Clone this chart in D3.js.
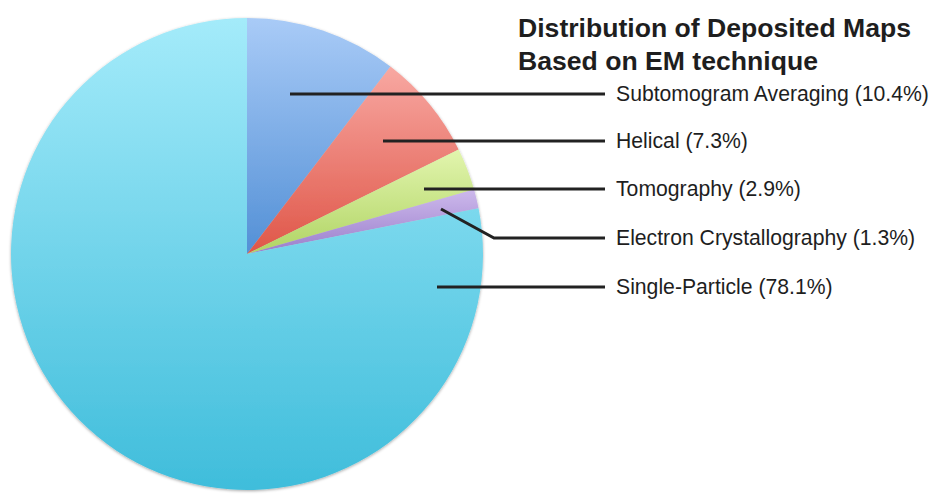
<!DOCTYPE html>
<html><head><meta charset="utf-8">
<script src="https://cdn.jsdelivr.net/npm/d3@7"></script>
<style>body{margin:0;background:#fff}svg{display:block}text{font-family:"Liberation Sans",Arial,sans-serif}</style>
</head><body>
<svg id="c" width="933" height="501"></svg>
<script>
const categories = ["Subtomogram Averaging","Helical","Tomography","Electron Crystallography","Single-Particle"];
const values = [10.4, 7.3, 2.9, 1.3, 78.1];
const titleLines = ["Distribution of Deposited Maps","Based on EM technique"];
const gradTop = ["#a9cbf7","#f8a8a2","#e2f5ae","#cdb9ec","#a4ebfa"];
const gradBottom = ["#5390d6","#df5648","#b0d464","#9a7ecb","#3fbddb"];
// leader anchors: x where the line starts, label row y, optional bend
const labelY = [94, 141, 189, 238, 287];
const anchorX = [290, 383, 424, 441, 437];
const anchorY = [94, 141, 189, 209, 287];

const svg = d3.select("#c");
const cx = 247, cy = 254, R = 236;
const defs = svg.append("defs");
const f = defs.append("filter").attr("id","sh").attr("x","-10%").attr("y","-10%").attr("width","120%").attr("height","120%");
f.append("feDropShadow").attr("dx",0).attr("dy",1).attr("stdDeviation",1.5).attr("flood-color","#000").attr("flood-opacity",0.35);
categories.forEach((c,i)=>{
  const g = defs.append("linearGradient").attr("id","g"+i).attr("x1",0).attr("y1",0).attr("x2",0).attr("y2",1);
  g.append("stop").attr("offset","0%").attr("stop-color",gradTop[i]);
  g.append("stop").attr("offset","100%").attr("stop-color",gradBottom[i]);
});
const pie = d3.pie().sort(null).value(d=>d)(values);
const arc = d3.arc().innerRadius(0).outerRadius(R);
const gp = svg.append("g").attr("transform",`translate(${cx},${cy})`).attr("filter","url(#sh)");
gp.selectAll("path").data(pie).join("path").attr("d",arc).attr("fill",(d,i)=>`url(#g${i})`);

const lineEnd = 605, textX = 616;
const lg = svg.append("g");
categories.forEach((c,i)=>{
  const pts = [[anchorX[i],anchorY[i]]];
  if (anchorY[i] !== labelY[i]) pts.push([494,labelY[i]]);
  pts.push([lineEnd,labelY[i]]);
  lg.append("path").attr("d",d3.line()(pts)).attr("fill","none").attr("stroke","#222").attr("stroke-width",3);
  lg.append("text").attr("x",textX).attr("y",labelY[i]).attr("dy","0.35em").attr("font-size",21.2).attr("fill","#1e1e1e")
    .text(`${c} (${values[i].toFixed(1)}%)`);
});
svg.append("g").selectAll("text").data(titleLines).join("text")
  .attr("x",518).attr("y",(d,i)=>37+i*33).attr("font-size",26.6).attr("font-weight","bold").attr("fill","#1e1e1e").text(d=>d);
</script>
</body></html>
